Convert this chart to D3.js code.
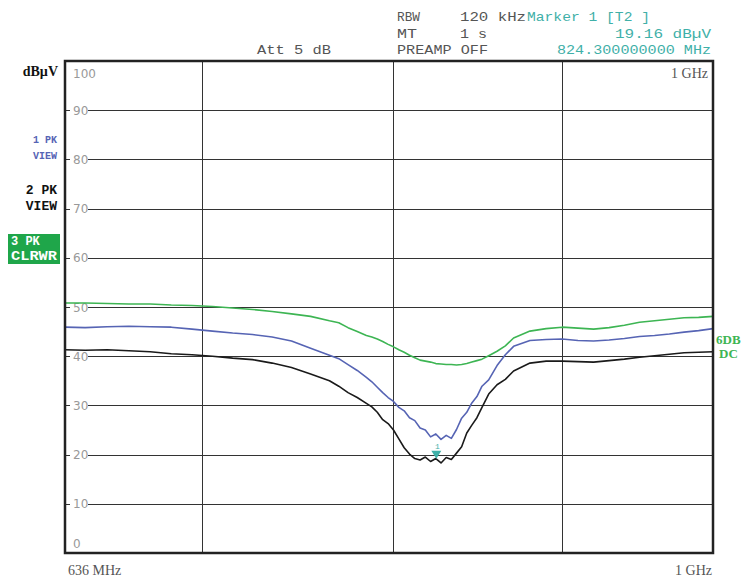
<!DOCTYPE html>
<html>
<head>
<meta charset="utf-8">
<script src="https://cdn.jsdelivr.net/npm/d3@7"></script>
<style>
  body { margin: 0; background: #fff; }
  svg { display: block; }
</style>
</head>
<body>
<div id="container"></div>
<script>
/* DATA */
// sweep frequencies, MHz
const freqs = [636, 645, 655, 665, 675, 685, 695, 705, 715, 725, 735, 745, 755, 765, 770, 775,
  780, 785, 788, 791, 794, 797, 800, 803, 806, 809, 812, 815, 818, 821, 824, 827, 830, 833,
  836, 839, 842, 845, 848, 851, 855, 860, 865, 870, 880, 890, 900, 910, 920, 930, 940, 950,
  960, 970, 980, 990, 1000];

// trace 1 (PK VIEW, blue), dBµV
const trace1 = [45.9, 45.8, 46.0, 46.1, 46.0, 45.9, 45.5, 45.1, 44.7, 44.4, 43.9, 43.1, 41.6, 40.2, 39.5, 38.3,
  37.1, 35.7, 34.8, 33.7, 32.6, 31.6, 30.8, 29.6, 28.9, 27.5, 26.9, 25.4, 25.0, 23.6, 24.2, 23.1, 23.9, 23.3,
  25.1, 27.4, 28.6, 30.5, 31.8, 33.9, 35.2, 38.1, 40.3, 42.0, 43.2, 43.4, 43.5, 43.2, 43.1, 43.3, 43.6, 44.0,
  44.2, 44.5, 44.9, 45.2, 45.6];

// trace 2 (PK VIEW, black), dBµV
const trace2 = [41.3, 41.2, 41.3, 41.1, 40.9, 40.5, 40.3, 40.0, 39.6, 39.3, 38.6, 37.7, 36.4, 35.0, 33.9, 32.6,
  31.6, 30.4, 29.7, 28.6, 27.1, 26.3, 25.0, 23.2, 21.4, 20.1, 19.2, 18.9, 19.5, 18.6, 19.2, 18.3, 19.4, 19.0,
  20.3, 21.6, 24.4, 26.0, 27.5, 29.6, 32.3, 34.2, 35.3, 37.0, 38.6, 39.0, 39.0, 38.9, 38.8, 39.1, 39.4, 39.8,
  40.1, 40.4, 40.7, 40.8, 40.9];

// trace 3 (PK CLRWR, green), dBµV
const trace3 = [50.8, 50.8, 50.7, 50.6, 50.6, 50.4, 50.3, 50.1, 49.8, 49.5, 49.1, 48.6, 48.1, 47.2, 46.8, 45.8,
  45.0, 44.2, 43.9, 43.5, 43.0, 42.4, 41.9, 41.3, 40.8, 40.2, 39.7, 39.2, 39.0, 38.8, 38.5, 38.4, 38.3, 38.3,
  38.2, 38.3, 38.5, 38.8, 39.1, 39.4, 40.1, 41.0, 42.1, 43.7, 45.1, 45.6, 45.9, 45.7, 45.5, 45.8, 46.3, 46.9,
  47.2, 47.5, 47.8, 47.9, 48.1];

const yTicks = [10, 20, 30, 40, 50, 60, 70, 80, 90];
const xGrid = [700, 800, 900];
const marker = { freq: 824.3, level: 19.16 };

/* CONSTANTS */
const width = 744, height = 579;
const plot = { left: 65, right: 713, top: 61, bottom: 553 };
const blue = "#5664b4", green = "#3db553", teal = "#3fb0a8", grey = "#555";

const svg = d3.select("#container")
  .append("svg")
  .attr("width", width)
  .attr("height", height)
  .style("font-family", "'Liberation Mono', monospace");

// SCALES
const xScale = d3.scaleLog()
  .domain([636, 1000])
  .range([plot.left, plot.right]);

const yScale = d3.scaleLinear()
  .domain([0, 100])
  .range([plot.bottom, plot.top]);

// GRID
const grid = svg.append("g").attr("stroke", "#333").attr("stroke-width", 1);

yTicks.forEach(v => {
  const y = Math.round(yScale(v)) + 0.5;
  grid.append("line").attr("x1", plot.left).attr("x2", plot.left + 5).attr("y1", y).attr("y2", y);
  grid.append("line").attr("x1", plot.left + 23).attr("x2", plot.right).attr("y1", y).attr("y2", y);
});

xGrid.forEach(f => {
  const x = Math.round(xScale(f)) + 0.5;
  grid.append("line").attr("x1", x).attr("x2", x).attr("y1", plot.top).attr("y2", plot.bottom);
});

// tick labels
svg.append("g")
  .selectAll("text")
  .data(yTicks)
  .join("text")
  .attr("x", plot.left + 8)
  .attr("y", d => yScale(d) + 4.5)
  .attr("fill", "#999")
  .style("font-family", "'DejaVu Sans', sans-serif")
  .style("font-size", "12px")
  .text(d => d);

svg.append("text").attr("x", plot.left + 8).attr("y", 78).attr("fill", "#999")
  .style("font-family", "'DejaVu Sans', sans-serif").style("font-size", "12px").text("100");
svg.append("text").attr("x", plot.left + 8).attr("y", 548).attr("fill", "#999")
  .style("font-family", "'DejaVu Sans', sans-serif").style("font-size", "12px").text("0");

// TRACES
const line = d3.line()
  .x((d, i) => xScale(freqs[i]))
  .y(d => yScale(d));

[[trace3, green], [trace1, blue], [trace2, "#1a1a1a"]].forEach(([vals, col]) => {
  svg.append("path")
    .datum(vals)
    .attr("fill", "none")
    .attr("stroke", col)
    .attr("stroke-width", 1.6)
    .attr("stroke-linejoin", "round")
    .attr("d", line);
});

// MARKER
const mx = xScale(marker.freq), my = yScale(marker.level);
svg.append("path")
  .attr("d", `M${mx - 5},${my - 8} L${mx + 5},${my - 8} L${mx},${my} Z`)
  .attr("fill", teal);
svg.append("text").attr("x", mx + 1).attr("y", my - 10).attr("text-anchor", "middle")
  .attr("fill", teal).style("font-size", "8px").text("1");

// FRAME
svg.append("rect")
  .attr("x", plot.left).attr("y", plot.top)
  .attr("width", plot.right - plot.left).attr("height", plot.bottom - plot.top)
  .attr("fill", "none").attr("stroke", "#222").attr("stroke-width", 2.5);

// HEADER TEXT
const header = [
  { t: "RBW", x: 397, y: 21, w: 23, c: grey },
  { t: "120 kHz", x: 460, y: 21, w: 66, c: grey },
  { t: "Marker 1 [T2 ]", x: 527, y: 21, w: 123, c: teal },
  { t: "MT", x: 397, y: 38, w: 20, c: grey },
  { t: "1 s", x: 460, y: 38, w: 27, c: grey },
  { t: "19.16 dBµV", x: 615, y: 38, w: 96, c: teal },
  { t: "Att 5 dB", x: 257, y: 54, w: 74, c: grey },
  { t: "PREAMP OFF", x: 397, y: 54, w: 91, c: grey },
  { t: "824.300000000 MHz", x: 557, y: 54, w: 154, c: teal }
];
svg.append("g")
  .selectAll("text")
  .data(header)
  .join("text")
  .attr("x", d => d.x)
  .attr("y", d => d.y)
  .attr("fill", d => d.c)
  .attr("textLength", d => d.w)
  .attr("lengthAdjust", "spacingAndGlyphs")
  .style("font-size", "13px")
  .text(d => d.t);

// LEFT LABELS
const serifBold = "'Liberation Serif', serif";
svg.append("text").attr("x", 58).attr("y", 76).attr("text-anchor", "end")
  .style("font-family", serifBold).style("font-weight", "bold").style("font-size", "14px")
  .attr("fill", "#111").text("dBµV");

svg.append("text").attr("x", 57).attr("y", 143).attr("text-anchor", "end")
  .style("font-weight", "bold").style("font-size", "10px").attr("fill", blue).text("1 PK");
svg.append("text").attr("x", 57).attr("y", 159).attr("text-anchor", "end")
  .style("font-weight", "bold").style("font-size", "10px").attr("fill", blue).text("VIEW");

svg.append("text").attr("x", 57).attr("y", 194).attr("text-anchor", "end")
  .style("font-weight", "bold").style("font-size", "13px").attr("fill", "#111").text("2 PK");
svg.append("text").attr("x", 57).attr("y", 210).attr("text-anchor", "end")
  .style("font-weight", "bold").style("font-size", "13px").attr("fill", "#111").text("VIEW");

svg.append("rect").attr("x", 8).attr("y", 234).attr("width", 52).attr("height", 30)
  .attr("fill", "#1fa64a");
svg.append("text").attr("x", 11).attr("y", 245)
  .style("font-weight", "bold").style("font-size", "12px").attr("fill", "#fff").text("3 PK");
svg.append("text").attr("x", 11).attr("y", 260).attr("textLength", 46)
  .attr("lengthAdjust", "spacingAndGlyphs")
  .style("font-weight", "bold").style("font-size", "12px").attr("fill", "#fff").text("CLRWR");

// RIGHT LABELS
svg.append("text").attr("x", 716).attr("y", 344)
  .style("font-family", serifBold).style("font-weight", "bold").style("font-size", "13px")
  .attr("fill", green).text("6DB");
svg.append("text").attr("x", 719).attr("y", 358)
  .style("font-family", serifBold).style("font-weight", "bold").style("font-size", "13px")
  .attr("fill", green).text("DC");

// FREQUENCY LABELS
const serif = "'Liberation Serif', serif";
svg.append("text").attr("x", 708).attr("y", 78).attr("text-anchor", "end")
  .style("font-family", serif).style("font-size", "14px").attr("fill", grey).text("1 GHz");
svg.append("text").attr("x", 68).attr("y", 575)
  .style("font-family", serif).style("font-size", "14px").attr("fill", grey).text("636 MHz");
svg.append("text").attr("x", 712).attr("y", 575).attr("text-anchor", "end")
  .style("font-family", serif).style("font-size", "14px").attr("fill", grey).text("1 GHz");
</script>
</body>
</html>
